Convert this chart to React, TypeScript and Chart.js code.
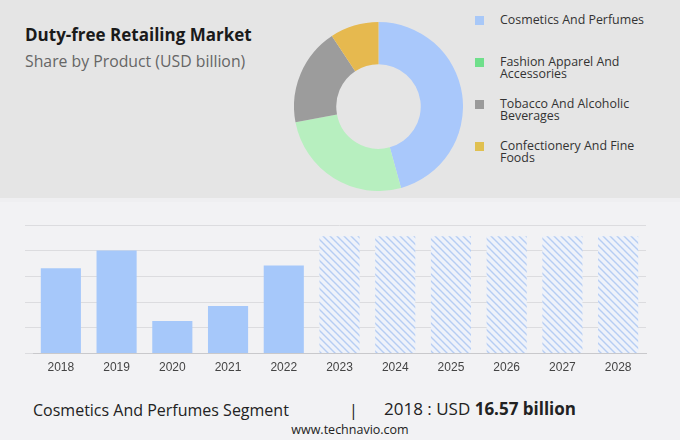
import React, { useEffect, useRef } from "react";
import { Chart, registerables } from "chart.js";

Chart.register(...registerables);

const productLabels = [
  "Cosmetics And Perfumes",
  "Fashion Apparel And Accessories",
  "Tobacco And Alcoholic Beverages",
  "Confectionery And Fine Foods",
];
const productLegendLines = [
  ["Cosmetics And Perfumes"],
  ["Fashion Apparel And", "Accessories"],
  ["Tobacco And Alcoholic", "Beverages"],
  ["Confectionery And Fine", "Foods"],
];
const productShares = [45.7, 26.3, 18.7, 9.3];
const sliceColors = ["#a9c8fb", "#b7efbf", "#9c9c9c", "#e6b94f"];
const legendColors = ["#a8c8f8", "#6fdf8b", "#9a9a9a", "#e0c050"];

const years = ["2018", "2019", "2020", "2021", "2022", "2023", "2024", "2025", "2026", "2027", "2028"];
const segmentValues = [16.57, 20.03, 6.34, 9.27, 17.15, 22.8, 22.8, 22.8, 22.8, 22.8, 22.8];
const isForecast = [false, false, false, false, false, true, true, true, true, true, true];
const yTicks = [0, 5, 10, 15, 20, 25];

function makeHatch(): CanvasPattern | string {
  const c = document.createElement("canvas");
  const s = 7;
  c.width = s;
  c.height = s;
  const ctx = c.getContext("2d");
  if (!ctx) return "#dde7f8";
  ctx.fillStyle = "#eef2fa";
  ctx.fillRect(0, 0, s, s);
  ctx.strokeStyle = "#b6cdf3";
  ctx.lineWidth = 1.4;
  ctx.beginPath();
  ctx.moveTo(-1, -1);
  ctx.lineTo(s + 1, s + 1);
  ctx.moveTo(-1, s - 1);
  ctx.lineTo(1, s + 1);
  ctx.moveTo(s - 1, -1);
  ctx.lineTo(s + 1, 1);
  ctx.stroke();
  const p = ctx.createPattern(c, "repeat");
  return p || "#dde7f8";
}

export default function App() {
  const donutRef = useRef<HTMLCanvasElement | null>(null);
  const barRef = useRef<HTMLCanvasElement | null>(null);

  useEffect(() => {
    const charts: Chart[] = [];
    if (donutRef.current) {
      charts.push(
        new Chart(donutRef.current, {
          type: "doughnut",
          data: {
            labels: productLabels,
            datasets: [
              {
                data: productShares,
                backgroundColor: sliceColors,
                borderWidth: 0,
              },
            ],
          },
          options: {
            animation: false,
            responsive: false,
            cutout: "50%",
            layout: { padding: 0 },
            plugins: { legend: { display: false }, tooltip: { enabled: false } },
          },
        })
      );
    }
    if (barRef.current) {
      const hatch = makeHatch();
      charts.push(
        new Chart(barRef.current, {
          type: "bar",
          data: {
            labels: years,
            datasets: [
              {
                data: segmentValues,
                backgroundColor: isForecast.map((f) => (f ? hatch : "#a6c8fa")),
                borderWidth: 0,
                barPercentage: 0.72,
                categoryPercentage: 1,
              },
            ],
          },
          options: {
            animation: false,
            responsive: false,
            layout: { padding: { left: 25, right: 34, top: 25, bottom: 6 } },
            plugins: { legend: { display: false }, tooltip: { enabled: false } },
            scales: {
              x: {
                grid: { display: false, drawTicks: false },
                border: { display: true, color: "#c9c9cc", width: 1 },
                ticks: {
                  color: "#444",
                  padding: 7,
                  font: { family: "'Liberation Sans', Arial, sans-serif", size: 12 },
                },
              },
              y: {
                min: yTicks[0],
                max: yTicks[yTicks.length - 1],
                afterBuildTicks: (scale: any) => {
                  scale.ticks = yTicks.map((v) => ({ value: v }));
                },
                grid: { color: "#dcdcdf", drawTicks: true, tickLength: 8, lineWidth: 1 },
                border: { display: false },
                ticks: { display: false },
              },
            },
          },
        })
      );
    }
    return () => charts.forEach((c) => c.destroy());
  }, []);

  const sans = "'Open Sans', 'DejaVu Sans', sans-serif";

  return (
    <div
      style={{
        position: "absolute",
        left: 0,
        top: 0,
        width: 680,
        height: 440,
        background: "#f2f2f4",
        overflow: "hidden",
        fontFamily: sans,
      }}
    >
      <div style={{ position: "absolute", left: 0, top: 0, width: 680, height: 198, background: "#e5e5e5" }} />
      <div style={{ position: "absolute", left: 0, top: 198, width: 680, height: 4, background: "#efeff1" }} />
      <div
        style={{
          position: "absolute",
          left: 25,
          top: 24,
          fontSize: 17,
          fontWeight: 700,
          color: "#1a1a1a",
          whiteSpace: "nowrap",
          lineHeight: "22px",
        }}
      >
        Duty-free Retailing Market
      </div>
      <div
        style={{
          position: "absolute",
          left: 25,
          top: 50,
          fontSize: 15.8,
          color: "#666",
          whiteSpace: "nowrap",
          lineHeight: "22px",
        }}
      >
        Share by Product (USD billion)
      </div>
      <canvas
        ref={donutRef}
        width={169}
        height={169}
        style={{ position: "absolute", left: 294, top: 22, width: 169, height: 169 }}
      />
      {productLegendLines.map((lines, i) => (
        <div key={i}>
          <div
            style={{
              position: "absolute",
              left: 475,
              top: 16 + i * 42,
              width: 9,
              height: 9,
              background: legendColors[i],
            }}
          />
          <div
            style={{
              position: "absolute",
              left: 500,
              top: 14 + i * 42,
              fontSize: 12.4,
              lineHeight: "12px",
              color: "#333",
              whiteSpace: "nowrap",
            }}
          >
            {lines.map((l, j) => (
              <div key={j}>{l}</div>
            ))}
          </div>
        </div>
      ))}
      <canvas
        ref={barRef}
        width={680}
        height={188}
        style={{ position: "absolute", left: 0, top: 200, width: 680, height: 188 }}
      />
      <div
        style={{
          position: "absolute",
          left: 33,
          top: 399,
          fontSize: 16,
          color: "#222",
          whiteSpace: "nowrap",
          lineHeight: "22px",
        }}
      >
        Cosmetics And Perfumes Segment
      </div>
      <div
        style={{
          position: "absolute",
          left: 349,
          top: 399,
          fontSize: 16,
          color: "#222",
          lineHeight: "22px",
        }}
      >
        |
      </div>
      <div
        style={{
          position: "absolute",
          left: 384,
          top: 398,
          fontSize: 17,
          color: "#222",
          whiteSpace: "nowrap",
          lineHeight: "22px",
        }}
      >
        2018 : USD <span style={{ fontWeight: 700 }}>16.57 billion</span>
      </div>
      <div
        style={{
          position: "absolute",
          left: 0,
          width: 700,
          top: 421,
          textAlign: "center",
          fontSize: 12.5,
          color: "#222",
          lineHeight: "18px",
        }}
      >
        www.technavio.com
      </div>
    </div>
  );
}
